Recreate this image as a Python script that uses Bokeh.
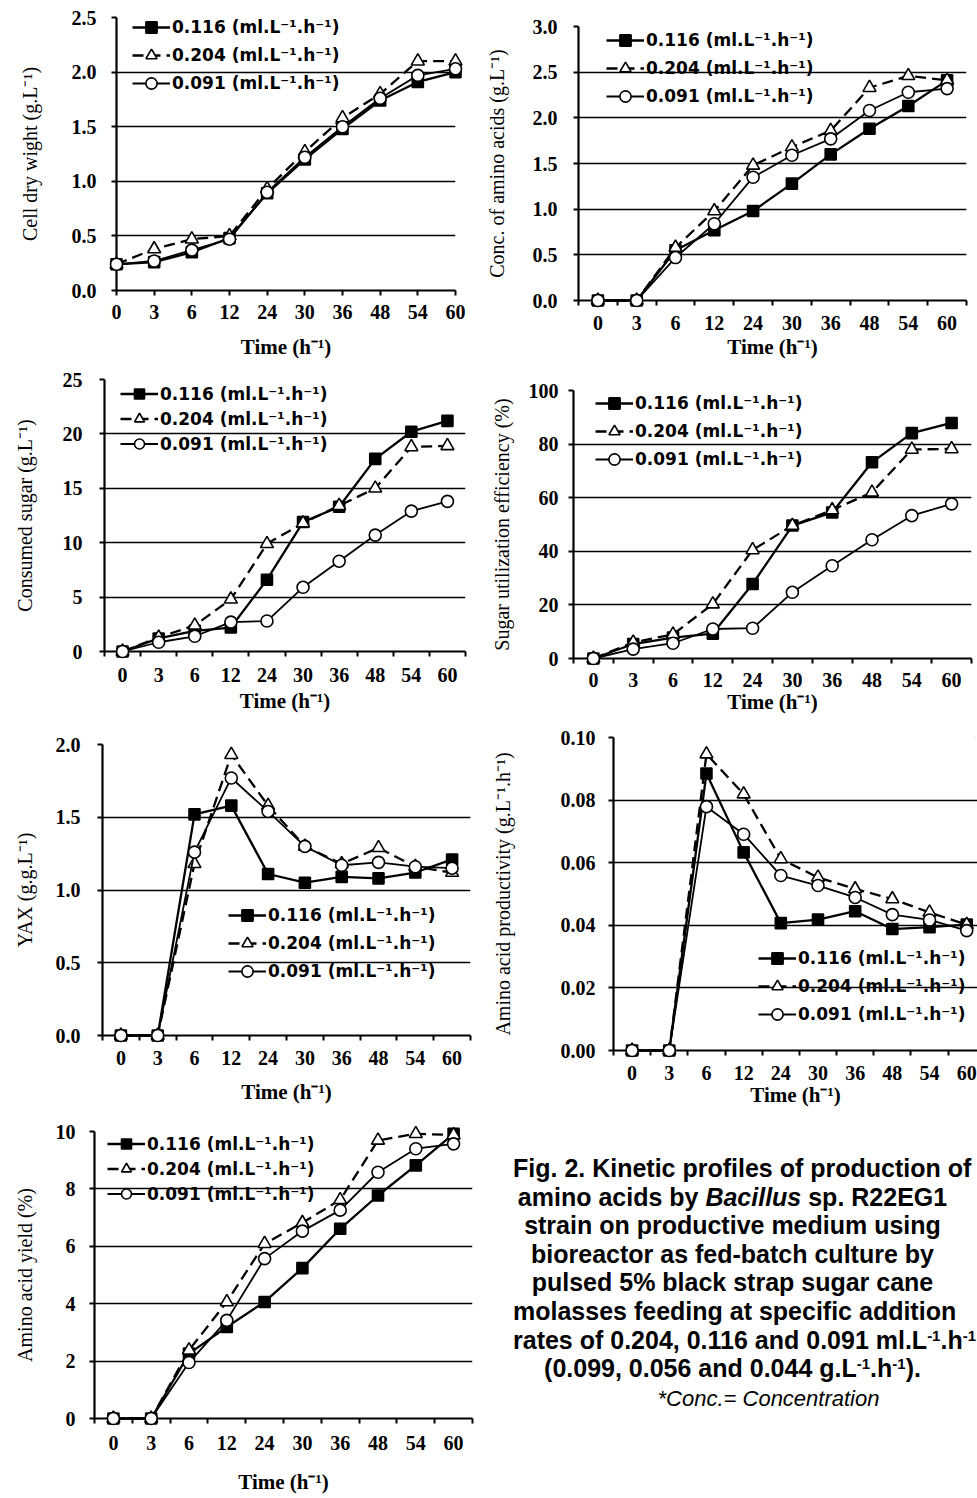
from bokeh.plotting import figure
from bokeh.models import Range1d, FixedTicker, PrintfTickFormatter, Legend, LegendItem, Div, Spacer
from bokeh.layouts import row, column
from bokeh.embed import file_html
from bokeh.resources import INLINE

# ---------------- data ----------------
times = ["0", "3", "6", "12", "24", "30", "36", "48", "54", "60"]
rates = ["0.116", "0.204", "0.091"]

cdw_116 = [0.24, 0.26, 0.35, 0.48, 0.89, 1.20, 1.48, 1.74, 1.91, 2.00]
cdw_204 = [0.24, 0.38, 0.47, 0.50, 0.93, 1.27, 1.58, 1.80, 2.10, 2.10]
cdw_091 = [0.24, 0.27, 0.37, 0.47, 0.90, 1.22, 1.50, 1.76, 1.97, 2.03]

aa_116 = [0, 0, 0.55, 0.77, 0.98, 1.28, 1.60, 1.88, 2.13, 2.41]
aa_204 = [0, 0, 0.58, 0.98, 1.48, 1.68, 1.86, 2.33, 2.46, 2.41]
aa_091 = [0, 0, 0.47, 0.84, 1.35, 1.59, 1.77, 2.08, 2.28, 2.32]

cs_116 = [0, 1.2, 1.9, 2.2, 6.6, 11.9, 13.3, 17.7, 20.2, 21.2]
cs_204 = [0, 1.3, 2.4, 4.8, 9.9, 11.8, 13.4, 15.0, 18.8, 18.9]
cs_091 = [0, 0.85, 1.4, 2.7, 2.8, 5.9, 8.3, 10.7, 12.9, 13.8]

sue_116 = [0, 5.4, 7.8, 9.3, 27.8, 49.6, 54.5, 73.2, 84.1, 87.9]
sue_204 = [0, 6.0, 9.0, 20.3, 40.5, 49.6, 55.4, 62.0, 78.0, 78.2]
sue_091 = [0, 3.5, 5.7, 11.0, 11.3, 24.7, 34.6, 44.3, 53.3, 57.7]

yax_116 = [0, 0, 1.52, 1.58, 1.11, 1.05, 1.09, 1.08, 1.12, 1.21]
yax_204 = [0, 0, 1.18, 1.93, 1.58, 1.30, 1.18, 1.29, 1.16, 1.12]
yax_091 = [0, 0, 1.26, 1.77, 1.54, 1.30, 1.17, 1.19, 1.16, 1.15]

aap_116 = [0, 0, 0.0885, 0.0633, 0.0407, 0.0418, 0.0445, 0.0388, 0.0394, 0.0402]
aap_204 = [0, 0, 0.0947, 0.0819, 0.0612, 0.0553, 0.0516, 0.0484, 0.0441, 0.0402]
aap_091 = [0, 0, 0.0779, 0.0691, 0.0559, 0.0527, 0.0489, 0.0434, 0.0417, 0.0383]

aay_116 = [0, 0, 2.26, 3.19, 4.06, 5.24, 6.61, 7.77, 8.82, 9.92]
aay_204 = [0, 0, 2.38, 4.06, 6.09, 6.82, 7.62, 9.69, 9.92, 9.88]
aay_091 = [0, 0, 1.95, 3.42, 5.57, 6.53, 7.26, 8.58, 9.40, 9.57]

cdw_yticks = [0, 0.5, 1.0, 1.5, 2.0, 2.5]
aa_yticks = [0, 0.5, 1.0, 1.5, 2.0, 2.5, 3.0]
cs_yticks = [0, 5, 10, 15, 20, 25]
sue_yticks = [0, 20, 40, 60, 80, 100]
yax_yticks = [0, 0.5, 1.0, 1.5, 2.0]
aap_yticks = [0, 0.02, 0.04, 0.06, 0.08, 0.10]
aay_yticks = [0, 2, 4, 6, 8, 10]

SERIF = "Liberation Serif"
xs = list(range(len(times)))


def make_panel(w, h, L, R, T, B, xr, yticks, yfmt, ylabel, series, on_ticks,
               yl_std, yal_std, xl_std, xal_std, leg_loc, leg_h):
    p = figure(width=w, height=h, output_backend="svg", toolbar_location=None,
               x_range=Range1d(*xr), y_range=Range1d(yticks[0], yticks[-1]),
               min_border_left=L, min_border_right=R, min_border_top=T, min_border_bottom=B)
    p.frame_align = False
    p.outline_line_color = None
    p.background_fill_color = "white"
    p.border_fill_color = "white"
    p.styles = {"outline": "1px solid #444", "outline-offset": "-2px"}
    p.xgrid.visible = False
    yt = FixedTicker(ticks=yticks)
    p.yaxis.ticker = yt
    p.ygrid.ticker = yt
    p.ygrid.grid_line_color = "black"
    p.ygrid.grid_line_width = 1.3
    p.yaxis.formatter = PrintfTickFormatter(format=yfmt)
    if on_ticks:
        xt = FixedTicker(ticks=xs)
    else:
        xt = FixedTicker(ticks=xs, minor_ticks=[i - 0.5 for i in range(len(times) + 1)])
    p.xaxis.ticker = xt
    p.xaxis.major_label_overrides = {i: t for i, t in enumerate(times)}
    for ax in (p.xaxis[0], p.yaxis[0]):
        ax.axis_line_color = "black"
        ax.axis_line_width = 2.2
        ax.major_tick_line_color = "black"
        ax.major_tick_line_width = 2
        ax.minor_tick_line_color = "black"
        ax.minor_tick_line_width = 2
        ax.major_label_text_font = SERIF
        ax.major_label_text_font_style = "bold"
        ax.major_label_text_font_size = "20px"
        ax.major_label_text_color = "black"
        ax.axis_label_text_font = SERIF
        ax.axis_label_text_color = "black"
        ax.axis_label_text_font_size = "20px"
    p.xaxis.axis_label_text_font_size = "21px"
    p.yaxis.major_tick_out = 5
    p.yaxis.major_tick_in = 0
    p.yaxis.minor_tick_out = 0
    p.yaxis.minor_tick_in = 0
    if on_ticks:
        p.xaxis.major_tick_out = 5
        p.xaxis.major_tick_in = 0
        p.xaxis.minor_tick_out = 0
    else:
        p.xaxis.major_tick_out = 0
        p.xaxis.major_tick_in = 0
        p.xaxis.minor_tick_out = 5
        p.xaxis.minor_tick_in = 0
    p.yaxis.major_label_standoff = yl_std
    p.yaxis.axis_label = ylabel
    p.yaxis.axis_label_text_font_style = "normal"
    p.yaxis.axis_label_standoff = yal_std
    p.xaxis.major_label_standoff = xl_std
    p.xaxis.axis_label = "Time (h\u207b\u00b9)"
    p.xaxis.axis_label_text_font_style = "bold"
    p.xaxis.axis_label_standoff = xal_std

    styles = [
        dict(marker="square", size=11, fill="black", dash="solid", lw=2.3),
        dict(marker="triangle", size=13, fill="white", dash="11 6", lw=2.3),
        dict(marker="circle", size=12, fill="white", dash="solid", lw=1.8),
    ]
    items = []
    for rate, ys, st in zip(rates, series, styles):
        lr = p.line(xs, ys, line_color="black", line_width=st["lw"], line_dash=st["dash"], level="overlay")
        sr = p.scatter(xs, ys, marker=st["marker"], size=st["size"], fill_color=st["fill"],
                       line_color="black", line_width=1.6, level="overlay")
        items.append(LegendItem(label=f"{rate} (ml.L\u207b\u00b9.h\u207b\u00b9)", renderers=[lr, sr]))
    leg = Legend(items=items, location=leg_loc, background_fill_alpha=0, border_line_color=None,
                 label_text_font="DejaVu Sans", label_text_font_style="bold", label_text_font_size="17px",
                 label_text_color="black",
                 glyph_width=38, glyph_height=leg_h, label_height=leg_h, spacing=0, padding=0, margin=0,
                 label_standoff=2, level="overlay")
    p.add_layout(leg)
    return p


p1 = make_panel(469, 367, 107, 23, 17, 77, (0, 9), cdw_yticks, "%.1f",
                "Cell dry wight (g.L\u207b\u00b9)", [cdw_116, cdw_204, cdw_091], True,
                15, 28, 9, 13, (16, 193), 28)
p2 = make_panel(499, 367, 100, 11, 26, 67, (-0.5, 9.5), aa_yticks, "%.1f",
                "Conc. of amino acids (g.L\u207b\u00b9)", [aa_116, aa_204, aa_091], False,
                16, 22, 10, 2, (28, 190), 28)
p3 = make_panel(469, 356, 95, 13, 12, 72, (-0.5, 9.5), cs_yticks, "%d",
                "Consumed sugar (g.L\u207b\u00b9)", [cs_116, cs_204, cs_091], False,
                17, 24, 11, 4, (16, 195), 25)
p4 = make_panel(499, 356, 95, 6, 23, 65, (-0.5, 9.5), sue_yticks, "%d",
                "Sugar utilization efficiency (%)", [sue_116, sue_204, sue_091], False,
                10, 13, 9, 0, (22, 185), 28)
p5 = make_panel(469, 386, 93, 8, 21, 74, (-0.5, 9.5), yax_yticks, "%.1f",
                "YAX (g.g.L\u207b\u00b9)", [yax_116, yax_204, yax_091], False,
                17, 17, 10, 12, (126, 50), 28)
p6 = make_panel(499, 386, 135, 0, 14, 59, (-0.5, 9.29), aap_yticks, "%.2f",
                "Amino acid productivity (g.L\u207b\u00b9.h\u207b\u00b9)", [aap_116, aap_204, aap_091], False,
                13, 44, 10, 0, (145, 22), 28)
p7 = make_panel(469, 389, 85, 6, 22, 80, (-0.5, 9.5), aay_yticks, "%d",
                "Amino acid yield (%)", [aay_116, aay_204, aay_091], False,
                14, 17, 12, 17, (13, 212), 25)

sup = '<sup style="font-size:0.6em;vertical-align:0.55em;line-height:0">'
caption_html = (
    '<div style="width:469px;padding-left:30px;padding-top:40px;text-align:center;'
    'font-family:\'Liberation Sans\',Arial,sans-serif;font-weight:bold;font-size:25px;'
    'line-height:28.6px;color:black;white-space:nowrap;">'
    'Fig. 2. Kinetic profiles of production of<br>'
    'amino acids by <i>Bacillus</i> sp. R22EG1<br>'
    'strain on productive medium using<br>'
    'bioreactor as fed-batch culture by<br>'
    'pulsed 5% black strap sugar cane<br>'
    'molasses feeding at specific addition<br>'
    f'rates of 0.204, 0.116 and 0.091 ml.L{sup}-1</sup>.h{sup}-1</sup><br>'
    f'(0.099, 0.056 and 0.044 g.L{sup}-1</sup>.h{sup}-1</sup>).<br>'
    '<span style="display:inline-block;padding-left:72px;font-weight:normal;font-style:italic;font-size:22px;">'
    '*Conc.= Concentration</span>'
    '</div>'
)
caption = Div(text=caption_html, width=499, height=389)

layout = column(
    row(Spacer(width=9, height=367), p1, p2),
    row(Spacer(width=9, height=356), p3, p4),
    row(Spacer(width=9, height=386), p5, p6),
    row(Spacer(width=9, height=389), p7, caption),
)

open("out.html", "w").write(file_html(layout, INLINE))
